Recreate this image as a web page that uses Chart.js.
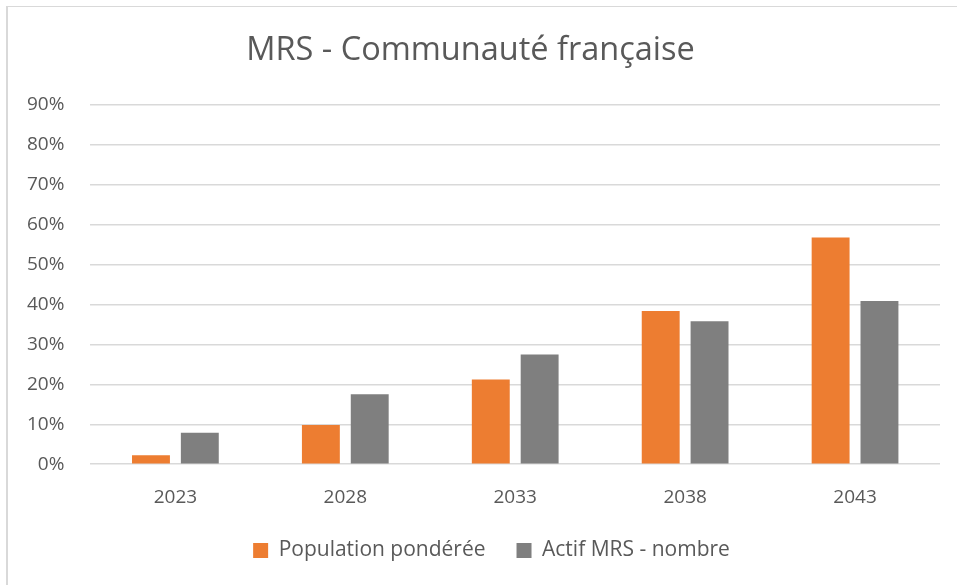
<!DOCTYPE html>
<html>
<head>
<meta charset="utf-8">
<script src="https://cdn.jsdelivr.net/npm/chart.js@4.4.1/dist/chart.umd.min.js"></script>
<style>
  html, body { margin: 0; padding: 0; background: #fff; }
  #wrap { position: absolute; left: 0; top: 0; width: 957px; height: 585px; }
  #frame { position: absolute; left: 6px; top: 6px; width: 960px; height: 600px;
           border-left: 2px solid #d9d9d9; border-top: 1px solid #d9d9d9; }
</style>
</head>
<body>
<div id="frame"></div>
<div id="wrap"><canvas id="myChart"></canvas></div>
<script>
const years = ["2023", "2028", "2033", "2038", "2043"]
const populationPonderee = [0.0225, 0.098, 0.2125, 0.384, 0.568]
const actifMRS = [0.079, 0.175, 0.275, 0.358, 0.409]
const seriesNames = ["Population pondérée", "Actif MRS - nombre"]
const tickFont = "'Open Sans', 'Noto Sans', sans-serif"

// nudge the legend so it sits under the plot like in Excel
const legendShift = {
  id: "legendShift",
  afterLayout(chart) {
    const lg = chart.legend
    lg.left += 21
    lg.right += 21
    lg.top -= 14
    lg.bottom -= 14
  }
}

new Chart("myChart", {
  type: "bar",
  data: {
    labels: years,
    datasets: [{
      label: seriesNames[0],
      backgroundColor: "#ED7D31",
      data: populationPonderee
    }, {
      label: seriesNames[1],
      backgroundColor: "#7F7F7F",
      data: actifMRS
    }]
  },
  options: {
    responsive: true,
    maintainAspectRatio: false,
    animation: false,
    categoryPercentage: 0.575,
    barPercentage: 0.776,
    layout: { padding: { left: 1, right: 17, top: 31, bottom: 0 } },
    plugins: {
      title: {
        display: true,
        text: "MRS - Communauté française",
        color: "#595959",
        font: { family: tickFont, size: 32.5, weight: "normal" },
        padding: { top: 0, bottom: 35 }
      },
      legend: {
        position: "bottom",
        labels: {
          color: "#595959",
          font: { family: tickFont, size: 21 },
          boxWidth: 15,
          boxHeight: 15,
          padding: 31
        }
      },
      tooltip: { enabled: false }
    },
    scales: {
      x: {
        grid: { display: false },
        border: { display: false },
        ticks: { color: "#595959", font: { family: tickFont, size: 19 }, padding: 14 }
      },
      y: {
        min: 0,
        max: 0.9,
        grid: { color: "#d9d9d9", lineWidth: 1.5, drawTicks: false },
        border: { display: false },
        ticks: {
          stepSize: 0.1,
          color: "#595959",
          font: { family: tickFont, size: 19 },
          padding: 26,
          callback: v => Math.round(v * 100) + "%"
        }
      }
    }
  },
  plugins: [legendShift]
})
</script>
</body>
</html>
